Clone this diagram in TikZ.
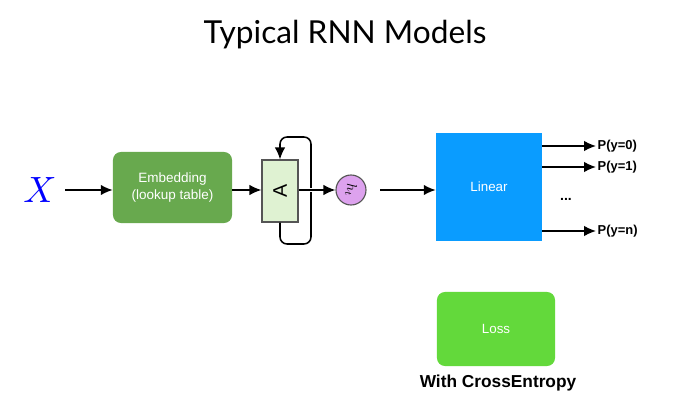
\documentclass[tikz,border=0pt]{standalone}
\usepackage{fontspec}
\setmainfont{Liberation Sans}
\newfontfamily\titlefont{Lato}
\usepackage{tikz}
\usetikzlibrary{arrows.meta,shapes,positioning,calc}
\definecolor{embgreen}{HTML}{68A94E}
\definecolor{lossgreen}{HTML}{63D93B}
\definecolor{linblue}{HTML}{0A9CFF}
\definecolor{cellgreen}{HTML}{DFF2D2}
\definecolor{hviolet}{HTML}{DDA2EE}
\definecolor{edgegray}{HTML}{555555}
\tikzset{
    arr/.style={line width=1.1pt, -{Latex[length=8.5pt,width=7.5pt]}},
    block/.style={rounded corners=0.2cm, text=white, align=center, font=\fontsize{9.6}{11.5}\selectfont},
    outlbl/.style={anchor=west, inner sep=1pt, font=\bfseries\fontsize{9.2}{11}\selectfont}
}
\begin{document}
\begin{tikzpicture}[x=0.025cm, y=-0.025cm]
    \useasboundingbox (0,0) rectangle (690,413);
    \node[font=\titlefont\fontsize{22.5}{26}\selectfont] (title) at (345,35) {Typical RNN Models};

    % input and embedding
    \node[text=blue, scale=2.6] (x) at (40,190) {$X$};
    \node[block, fill=embgreen, minimum width=2.975cm, minimum height=1.775cm] (emb) at (172.5,187.5) {Embedding\\(lookup table)};
    \draw[arr] (65,190) -- (emb.west |- 0,190);

    % RNN cell with loop
    \node[draw=edgegray, thick, fill=cellgreen, minimum width=0.9cm, minimum height=1.55cm, font=\fontsize{14}{14}\selectfont] (cell) at (280,191) {\rotatebox{90}{A}};
    \draw[arr] (emb.east |- 0,190) -- (cell.west |- 0,190);
    \coordinate (loopb) at (311,244);
    \coordinate (loopt) at (311,137);
    \draw[arr, rounded corners=5pt] (cell.south) |- (loopb) -- (loopt) -| (cell.north);

    % hidden state
    \node[circle, draw=edgegray, thick, fill=hviolet, minimum size=0.75cm, inner sep=0pt] (h) at (351,190) {\rotatebox{-90}{$h_t$}};
    \draw[arr, preaction={draw=white, line width=3pt, -}] (cell.east |- 0,190) -- (h.west);

    % linear layer and outputs
    \node[fill=linblue, text=white, minimum width=2.65cm, minimum height=2.7cm, font=\fontsize{9.5}{11}\selectfont] (lin) at (489,187) {Linear};
    \draw[arr] (380,190) -- (lin.west |- 0,190);
    \node[outlbl] (p0) at (596,146) {P(y=0)};
    \node[outlbl] (p1) at (596,167) {P(y=1)};
    \node[outlbl] (pn) at (596,231) {P(y=n)};
    \node[font=\bfseries\fontsize{10}{11}\selectfont] (dots) at (566,199) {...};
    \foreach \p in {p0,p1,pn}
        \draw[arr] (lin.east |- \p) -- (\p.west);

    % loss
    \node[block, fill=lossgreen, minimum width=2.95cm, minimum height=1.85cm, font=\fontsize{9.5}{11}\selectfont] (loss) at (496,329) {Loss};
    \node[font=\bfseries\fontsize{12.3}{14}\selectfont] (ce) at (498,383) {With CrossEntropy};
\end{tikzpicture}
\end{document}
